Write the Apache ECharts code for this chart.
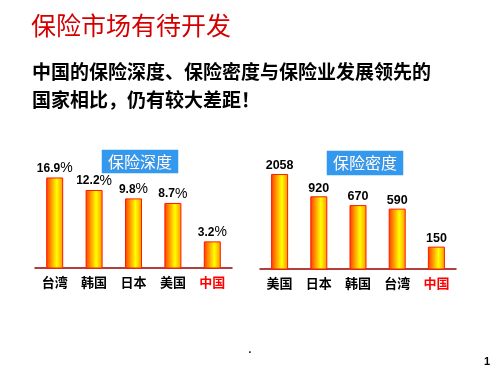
<!DOCTYPE html>
<html>
<head>
<meta charset="utf-8">
<script src="https://cdn.jsdelivr.net/npm/echarts@6/dist/echarts.min.js"></script>
<style>html,body{margin:0;padding:0;background:#fff;}#c{width:500px;height:375px;}</style>
</head>
<body>
<div id="c"></div>
<script>
var depthCategories = ['台湾', '韩国', '日本', '美国', '中国'];
var depthValues = [16.9, 12.2, 9.8, 8.7, 3.2];
var densityCategories = ['美国', '日本', '韩国', '台湾', '中国'];
var densityValues = [2058, 920, 670, 590, 150];
var mainTitle = '保险市场有待开发';
var subTitle = '中国的保险深度、保险密度与保险业发展领先的\n国家相比，仍有较大差距！';
var depthTitle = '保险深度';
var densityTitle = '保险密度';

var FONT = '"Liberation Sans", "Noto Sans CJK SC", sans-serif';
var CJK = '"Noto Sans CJK SC", "Liberation Sans", sans-serif';

var barGradient = new echarts.graphic.LinearGradient(0, 0, 1, 0, [
  {offset: 0, color: '#ff3a00'},
  {offset: 0.62, color: '#ffff00'},
  {offset: 1, color: '#ff9000'}
]);

function catColor(v) { return v === '中国' ? '#ff0000' : '#000000'; }

var chart = echarts.init(document.getElementById('c'), null, {renderer: 'canvas'});
chart.setOption({
  backgroundColor: '#ffffff',
  animation: false,
  title: [
    {text: mainTitle, left: 31, top: 13, padding: 0,
     textStyle: {fontSize: 25, color: '#d40000', fontWeight: 'normal', fontFamily: CJK}},
    {text: subTitle, left: 32, top: 58, padding: 0,
     textStyle: {fontSize: 19, color: '#000', fontWeight: 'bold', fontFamily: CJK, lineHeight: 28}},
    {text: depthTitle, left: 102, top: 150, padding: [4, 6, 3, 6], backgroundColor: '#3399ee',
     textStyle: {fontSize: 16, color: '#fff', fontWeight: 'normal', fontFamily: CJK,
                 textBorderColor: '#5a8fd0', textBorderWidth: 0.5}},
    {text: densityTitle, left: 327, top: 151, padding: [4, 6, 4, 6], backgroundColor: '#3399ee',
     textStyle: {fontSize: 16, color: '#fff', fontWeight: 'normal', fontFamily: CJK,
                 textBorderColor: '#5a8fd0', textBorderWidth: 0.5}}
  ],
  grid: [
    {left: 35, width: 197, top: 171, height: 97},
    {left: 260, width: 196, top: 163.5, height: 105.5}
  ],
  xAxis: [
    {type: 'category', gridIndex: 0, data: depthCategories,
     axisLine: {lineStyle: {color: '#990000', width: 1.5}}, axisTick: {show: false},
     axisLabel: {margin: 8, fontSize: 13, fontWeight: 'bold', fontFamily: CJK, color: catColor}},
    {type: 'category', gridIndex: 1, data: densityCategories,
     axisLine: {lineStyle: {color: '#990000', width: 1.5}}, axisTick: {show: false},
     axisLabel: {margin: 8, fontSize: 13, fontWeight: 'bold', fontFamily: CJK, color: catColor}}
  ],
  yAxis: [
    {type: 'log', gridIndex: 0, min: 1.6, max: 20, show: false, splitLine: {show: false}},
    {type: 'log', gridIndex: 1, min: 67, max: 3000, show: false, splitLine: {show: false}}
  ],
  series: [
    {type: 'bar', xAxisIndex: 0, yAxisIndex: 0, data: depthValues, barWidth: 17,
     itemStyle: {color: barGradient, borderColor: '#ff1a00', borderWidth: 1},
     label: {show: true, position: 'top', distance: 2,
       formatter: function (p) { return '{a|' + p.value + '}{b|%}'; },
       rich: {
         a: {fontSize: 12, fontWeight: 'bold', fontFamily: FONT, color: '#000'},
         b: {fontSize: 14, fontWeight: 'normal', fontFamily: FONT, color: '#000'}
       }}},
    {type: 'bar', xAxisIndex: 1, yAxisIndex: 1, data: densityValues, barWidth: 17,
     itemStyle: {color: barGradient, borderColor: '#ff1a00', borderWidth: 1},
     label: {show: true, position: 'top', distance: 2,
       fontSize: 12.5, fontWeight: 'bold', fontFamily: FONT, color: '#000'}}
  ],
  graphic: [
    {type: 'text', x: 250, y: 350, style: {text: '.', font: 'bold 10px ' + FONT, fill: '#000', textAlign: 'center', textVerticalAlign: 'middle'}},
    {type: 'text', x: 487, y: 362, style: {text: '1', font: 'bold 11px ' + FONT, fill: '#000', textAlign: 'center', textVerticalAlign: 'middle'}}
  ]
});
</script>
</body>
</html>
